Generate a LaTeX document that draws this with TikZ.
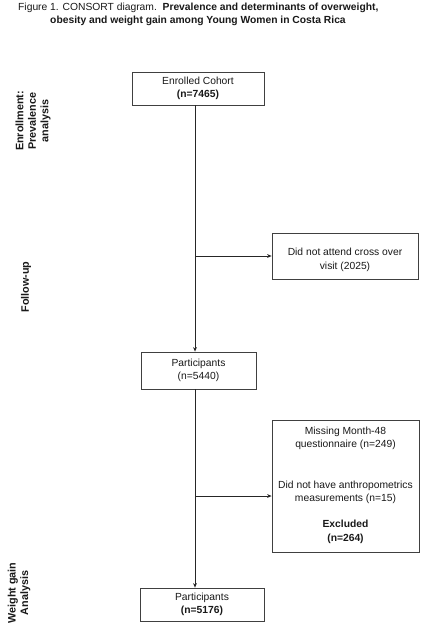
\documentclass[tikz,border=0pt]{standalone}
\usepackage{fontspec}
\setmainfont{Liberation Sans}
\usetikzlibrary{arrows.meta,calc}
\begin{document}
\begin{tikzpicture}[x=1pt,y=-1pt,
  every node/.style={font=\fontsize{10.3}{13.5}\selectfont, text=black!90},
  flowbox/.style={draw=black!75, line width=0.8pt, inner sep=0pt},
  txt/.style={align=center, inner sep=0pt},
  side/.style={align=center, rotate=90, inner sep=0pt, font=\fontsize{10.8}{12.5}\selectfont\bfseries},
  link/.style={draw=black!85, line width=0.8pt},
  arr/.style={link, -{Stealth[length=4.5pt,width=3.8pt]}}]
\useasboundingbox (0,0) rectangle (426,628);
\fill[white] (0,0) rectangle (426,628);

% title
\node[txt, anchor=west] (t1) at (18,8) {Figure 1. CONSORT diagram.\ \ \textbf{Prevalence and determinants of overweight,}};
\node[txt] (t2) at (198,21) {\textbf{obesity and weight gain among Young Women in Costa Rica}};

% side labels
\node[side] (s1) at (33,121) {Enrollment:\\Prevalence\\analysis};
\node[side] (s2) at (26,287) {Follow-up};
\node[side] (s3) at (19,593) {Weight gain\\Analysis};

% boxes
\node[flowbox, minimum width=132, minimum height=33] (enr) at (198,88.5) {};
\node[txt] (enrt) at (198,88.5) {Enrolled Cohort\\\textbf{(n=7465)}};

\node[flowbox, minimum width=146, minimum height=46] (dna) at (345,256) {};
\node[txt] (dnat) at (345,260) {Did not attend cross over\\visit (2025)};

\node[flowbox, minimum width=115, minimum height=37] (p1) at (198.5,370.5) {};
\node[txt] (p1t) at (198.5,370.5) {Participants\\(n=5440)};

\node[flowbox, minimum width=147, minimum height=132] (exc) at (345.5,486) {};
\node[txt] (exc1) at (345.5,438.5) {Missing Month-48\\questionnaire (n=249)};
\node[txt] (exc2) at (345.5,492.5) {Did not have anthropometrics\\measurements (n=15)};
\node[txt] (exc3) at (345.5,532) {\textbf{Excluded}\\\textbf{(n=264)}};

\node[flowbox, minimum width=124, minimum height=33] (p2) at (202,604.5) {};
\node[txt] (p2t) at (202,604.5) {Participants\\\textbf{(n=5176)}};

% connectors
\coordinate (spine) at (195,0);
\coordinate (b1) at (195,256);
\coordinate (b2) at (195,496);
\draw[arr] (enr.south -| spine) -- (p1.north -| spine);
\draw[arr] (b1) -- (dna.west);
\draw[arr] (p1.south -| spine) -- (p2.north -| spine);
\draw[arr] (b2) -- (exc.west |- b2);
\end{tikzpicture}
\end{document}
